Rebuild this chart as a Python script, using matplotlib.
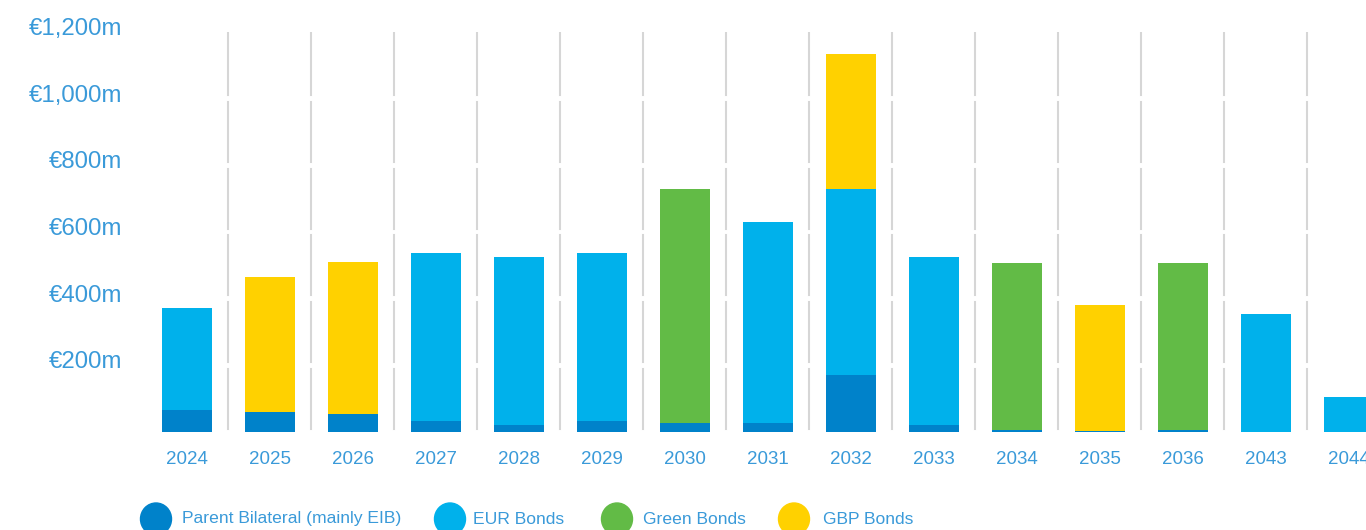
import matplotlib.pyplot as plt
import matplotlib.transforms as mtransforms
from matplotlib.patches import Ellipse
import numpy as np

years = ["2024", "2025", "2026", "2027", "2028", "2029", "2030", "2031",
         "2032", "2033", "2034", "2035", "2036", "2043", "2044"]
parent = [65, 60, 54, 33, 21, 33, 27, 27, 171, 21, 5, 3, 5, 0, 0]
eur = [307, 0, 0, 504, 504, 504, 0, 603, 558, 504, 0, 0, 0, 354, 105]
green = [0, 0, 0, 0, 0, 0, 702, 0, 0, 0, 502, 0, 502, 0, 0]
gbp = [0, 405, 456, 0, 0, 0, 0, 0, 405, 0, 0, 378, 0, 0, 0]

series_names = ["Parent Bilateral (mainly EIB)", "EUR Bonds", "Green Bonds", "GBP Bonds"]
colors = ["#0082ca", "#00b1eb", "#62bb46", "#ffd100"]
label_col = "#3a9ad9"

yticks = [200, 400, 600, 800, 1000, 1200]
ytick_labels = ["€200m", "€400m", "€600m", "€800m", "€1,000m", "€1,200m"]

plt.rcParams['font.family'] = ['Liberation Sans', 'DejaVu Sans']

W, H = 1366, 530
fig = plt.figure(figsize=(W / 100, H / 100), dpi=100)
ax = fig.add_axes([145 / W, 1 - 432 / H, (W - 145) / W, 400 / H])

x = np.arange(len(years))
bottom = np.zeros(len(years))
for vals, col in zip([parent, eur, green, gbp], colors):
    ax.bar(x, vals, width=0.61, bottom=bottom, color=col, zorder=3)
    bottom += np.array(vals)

# broken vertical separators between years
levels = [0] + yticks
for b in x[:-1] + 0.5:
    for lo, hi in zip(levels[:-1], levels[1:]):
        y0 = lo + 10 if lo > 0 else 8
        y1 = hi - 10 if hi < 1200 else 1200
        ax.plot([b, b], [y0, y1], color="#d6d6d6", lw=1.5, zorder=1)

ax.set_xlim(-0.506, 14.205)
ax.set_ylim(0, 1200)
for s in ax.spines.values():
    s.set_visible(False)

ax.set_xticks(x)
ax.set_xticklabels(years, color=label_col, fontsize=13.5)
ax.set_yticks(yticks)
ax.set_yticklabels(ytick_labels, color=label_col, fontsize=17.3)
ax.tick_params(axis='x', length=0, pad=14)
ax.tick_params(axis='y', length=0, pad=16.5)
up = mtransforms.ScaledTranslation(0, 4 / 72, fig.dpi_scale_trans)
for t in ax.get_yticklabels():
    t.set_transform(t.get_transform() + up)

# legend
leg_x = [156, 450, 617, 794]
txt_x = [182, 473, 643, 823]
for cx, tx, name, col in zip(leg_x, txt_x, series_names, colors):
    fig.patches.append(Ellipse((cx / W, 1 - 519 / H), 31 / W, 32 / H,
                               transform=fig.transFigure, color=col))
    fig.text(tx / W, 1 - 519 / H, name, color=label_col, fontsize=12.6,
             va='center', ha='left')

fig.savefig("out.png", dpi=100)
